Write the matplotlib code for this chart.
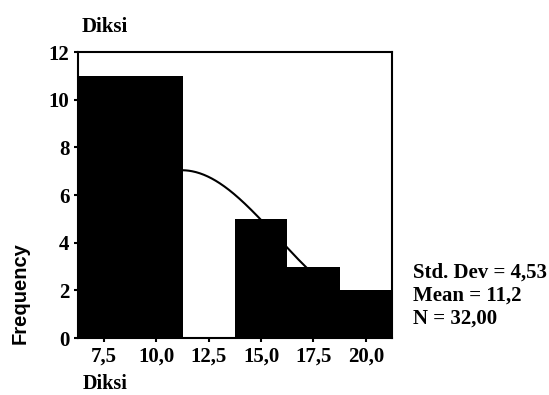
import numpy as np
import matplotlib
matplotlib.use("Agg")
import matplotlib.pyplot as plt

# Histogram of "Diksi" scores (bin midpoints and counts)
bin_centers = [7.5, 10.0, 12.5, 15.0, 17.5, 20.0]
counts = [11, 11, 0, 5, 3, 2]
bin_width = 2.5
x_ticks = [7.5, 10.0, 12.5, 15.0, 17.5, 20.0]
x_tick_labels = ["7,5", "10,0", "12,5", "15,0", "17,5", "20,0"]
y_ticks = [0, 2, 4, 6, 8, 10, 12]

std_dev = 4.53
mean = 11.2
n = 32

serif = "Liberation Serif"

fig = plt.figure(figsize=(5.49, 3.95), dpi=100)
ax = fig.add_axes([0.142, 0.144, 0.572, 0.724])

ax.bar(bin_centers, counts, width=bin_width, color="black", edgecolor="black",
       linewidth=0, align="center", zorder=2)

# Fitted normal curve scaled to counts
xs = np.linspace(6.25, 21.25, 400)
pdf = np.exp(-0.5 * ((xs - mean) / std_dev) ** 2) / (std_dev * np.sqrt(2 * np.pi))
ax.plot(xs, n * bin_width * pdf, color="black", linewidth=1.5, zorder=3)

ax.set_xlim(6.25, 21.25)
ax.set_ylim(0, 12)
ax.set_xticks(x_ticks)
ax.set_xticklabels(x_tick_labels)
ax.set_yticks(y_ticks)
ax.set_yticklabels([str(v) for v in y_ticks])
for lab in ax.get_xticklabels() + ax.get_yticklabels():
    lab.set_fontfamily(serif)
    lab.set_fontweight("bold")
    lab.set_fontsize(15)
ax.tick_params(axis="both", direction="out", length=3, width=1.5, color="black", pad=3)

for side in ["top", "right", "left", "bottom"]:
    ax.spines[side].set_linewidth(1.5)
    ax.spines[side].set_color("black")

ax.set_ylabel("Frequency", fontfamily="Liberation Sans", fontweight="bold",
              fontsize=14.5, va="center")
ax.yaxis.set_label_coords(-0.183, 0.157)

fig.text(82 / 549, 1 - 27 / 395, "Diksi", fontfamily=serif, fontweight="bold",
         fontsize=15, ha="left", va="center")
fig.text(83 / 549, 1 - 384 / 395, "Diksi", fontfamily=serif, fontweight="bold",
         fontsize=14.5, ha="left", va="center")

stats = [f"Std. Dev = {std_dev:.2f}".replace(".", ",").replace("Std,", "Std."),
         f"Mean = {mean:.1f}".replace(".", ","),
         f"N = {n:.2f}".replace(".", ",")]
for i, line in enumerate(stats):
    fig.text(413 / 549, 1 - (273 + 23 * i) / 395, line, fontfamily=serif,
             fontweight="bold", fontsize=15, ha="left", va="center")

fig.savefig("out.png", dpi=100)
